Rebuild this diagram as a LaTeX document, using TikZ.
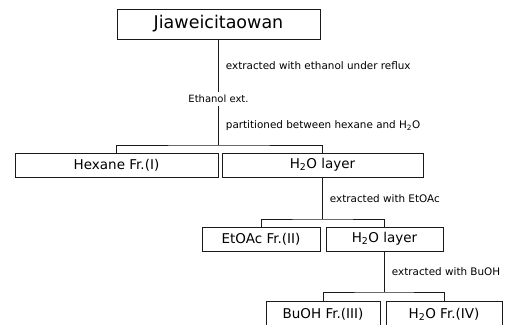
\documentclass[tikz,border=0pt]{standalone}
\usepackage{fontspec}
\setmainfont{DejaVu Sans}
\definecolor{Ink}{HTML}{1A1A1A}
\tikzset{
  stage/.style={
    draw=Ink, line width=0.8pt, fill=white, minimum height=24pt,
    inner sep=0pt, font=\fontsize{13.5}{16}\selectfont
  },
  crude/.style={stage, minimum height=30pt, font=\fontsize{17.5}{20}\selectfont},
  extract/.style={inner sep=3pt, font=\fontsize{10}{12}\selectfont},
  note/.style={anchor=west, xshift=7pt, inner sep=0pt, font=\fontsize{10.4}{12}\selectfont},
  link/.style={draw=Ink, line width=0.8pt}
}

\begin{document}
\begin{tikzpicture}[x=1pt,y=-1pt]
    \useasboundingbox (0,0) rectangle (508,324);
    \clip (0,0) rectangle (508,324);
    \node[crude,minimum width=203pt] (raw) at (218.5,24) {Jiaweicitaowan};
    \node[extract] (ext) at (218.5,99) {Ethanol ext.};
    \node[stage,minimum width=203pt] (hex) at (116.5,165) {Hexane Fr.(I)};
    \node[stage,minimum width=201pt] (wat1) at (322.5,165) {H\textsubscript{2}O layer};
    \node[stage,minimum width=118pt] (etoac) at (261,239) {EtOAc Fr.(II)};
    \node[stage,minimum width=117pt] (wat2) at (384.5,239) {H\textsubscript{2}O layer};
    \node[stage,minimum width=114pt,minimum height=26pt] (buoh) at (323,314) {BuOH Fr.(III)};
    \node[stage,minimum width=116pt,minimum height=26pt] (watfr) at (444,314) {H\textsubscript{2}O Fr.(IV)};
    \coordinate (s1) at (218.5,145);
    \coordinate (s2) at (322.5,219);
    \coordinate (s3) at (384.5,292);
    \draw[link] (raw) -- node[note] (n1) {extracted with ethanol under reflux} (ext);
    \draw[link] (ext) -- node[note] (n2) {partitioned between hexane and H\textsubscript{2}O} (s1);
    \draw[link] (hex.north) |- (s1) -| (wat1.north);
    \draw[link] (wat1) -- node[note] (n3) {extracted with EtOAc} (s2);
    \draw[link] (etoac.north) |- (s2) -| (wat2.north);
    \draw[link] (wat2) -- node[note] (n4) {extracted with BuOH} (s3);
    \draw[link] (buoh.north) |- (s3) -| (watfr.north);
  \end{tikzpicture}
\end{document}
